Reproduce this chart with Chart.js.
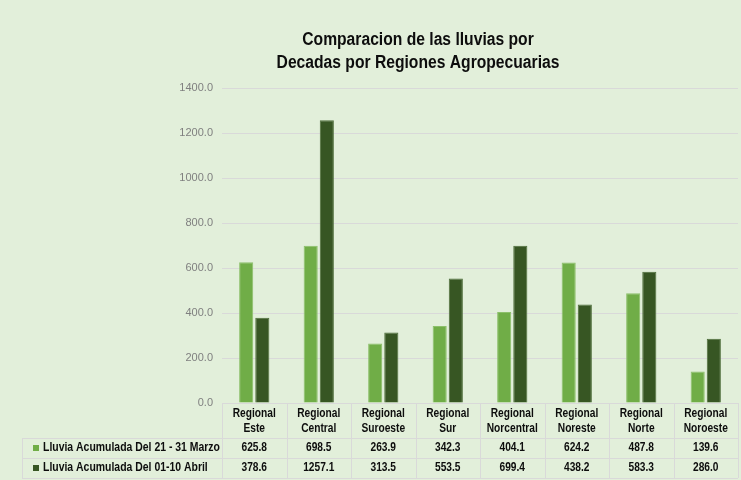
<!DOCTYPE html>
<html>
<head>
<meta charset="utf-8">
<script src="https://cdn.jsdelivr.net/npm/chart.js@4"></script>
<style>
  body { margin: 0; background: #E2EFDA; }
  #wrap { width: 741px; height: 480px; }
</style>
</head>
<body>
<div id="wrap"><canvas id="myChart" width="741" height="480"></canvas></div>
<script>
var regiones = [["Regional", "Este"], ["Regional", "Central"], ["Regional", "Suroeste"], ["Regional", "Sur"],
                ["Regional", "Norcentral"], ["Regional", "Noreste"], ["Regional", "Norte"], ["Regional", "Noroeste"]];
var marzo = [625.8, 698.5, 263.9, 342.3, 404.1, 624.2, 487.8, 139.6];
var abril = [378.6, 1257.1, 313.5, 553.5, 699.4, 438.2, 583.3, 286.0];
var serieNombres = ["Lluvia Acumulada Del 21 - 31 Marzo", "Lluvia Acumulada Del 01-10 Abril"];
var barColors = ["#70AD47", "#375623"];
var tituloLineas = ["Comparacion de las lluvias por", "Decadas por Regiones Agropecuarias"];

var fontFam = '"Liberation Sans", Arial, sans-serif';

// texto un poco comprimido, parecido a Calibri
function angosto(ctx, t, x, y, f) {
  ctx.fillText(t, x, y, ctx.measureText(t).width * f);
}

// fondo, titulo y tabla de datos debajo del eje
var tablaPlugin = {
  id: "tabla",
  beforeDraw: function (chart) {
    var ctx = chart.ctx;
    ctx.save();
    ctx.fillStyle = "#E2EFDA";
    ctx.fillRect(0, 0, chart.width, chart.height);
    ctx.restore();
  },
  afterDraw: function (chart) {
    var ctx = chart.ctx;
    var x = chart.scales.x;
    var area = chart.chartArea;
    var n = regiones.length;
    var step = (area.right - area.left) / n;
    var top = area.bottom;
    var r1 = top + 35, r2 = r1 + 20, r3 = r2 + 20;
    var left = 22;

    ctx.save();
    // titulo
    ctx.fillStyle = "#0D0D0D";
    ctx.font = "bold 18px " + fontFam;
    ctx.textAlign = "center";
    ctx.textBaseline = "middle";
    angosto(ctx, tituloLineas[0], 418, 40, 0.87);
    angosto(ctx, tituloLineas[1], 418, 63, 0.87);

    // lineas de la tabla
    ctx.strokeStyle = "#D9D9D9";
    ctx.lineWidth = 1;
    ctx.beginPath();
    ctx.moveTo(area.left, top + 0.5); ctx.lineTo(area.right, top + 0.5);
    [r1, r2, r3].forEach(function (y) {
      ctx.moveTo(left, y + 0.5); ctx.lineTo(area.right, y + 0.5);
    });
    ctx.moveTo(left + 0.5, r1); ctx.lineTo(left + 0.5, r3);
    for (var i = 0; i <= n; i++) {
      var vx = Math.round(area.left + i * step) + 0.5;
      ctx.moveTo(vx, top); ctx.lineTo(vx, r3);
    }
    ctx.stroke();

    // textos
    ctx.fillStyle = "#0D0D0D";
    ctx.font = "bold 12px " + fontFam;
    for (var j = 0; j < n; j++) {
      var cx = x.getPixelForValue(j);
      angosto(ctx, regiones[j][0], cx, top + 11, 0.85);
      angosto(ctx, regiones[j][1], cx, top + 26, 0.85);
      angosto(ctx, marzo[j].toFixed(1), cx, r1 + 10, 0.85);
      angosto(ctx, abril[j].toFixed(1), cx, r2 + 10, 0.85);
    }
    ctx.textAlign = "left";
    [r1, r2].forEach(function (y, k) {
      ctx.fillStyle = barColors[k];
      ctx.fillRect(33, y + 7, 6, 6);
      ctx.fillStyle = "#0D0D0D";
      angosto(ctx, serieNombres[k], 43, y + 10, 0.87);
    });
    ctx.restore();
  }
};

new Chart("myChart", {
  type: "bar",
  data: {
    labels: regiones.map(function (r) { return r.join(" "); }),
    datasets: [{
      label: serieNombres[0],
      backgroundColor: barColors[0],
      borderColor: "#8CC06A",
      borderWidth: 1,
      data: marzo
    }, {
      label: serieNombres[1],
      backgroundColor: barColors[1],
      borderColor: "#4E6E3A",
      borderWidth: 1,
      data: abril
    }]
  },
  options: {
    responsive: false,
    animation: false,
    layout: { padding: { top: 88, right: 3, bottom: 77, left: 0 } },
    plugins: {
      legend: { display: false },
      title: { display: false },
      tooltip: { enabled: false }
    },
    datasets: { bar: { categoryPercentage: 0.5, barPercentage: 0.875 } },
    scales: {
      x: { display: false },
      y: {
        min: 0, max: 1400,
        afterFit: function (s) { s.width = 222; },
        border: { display: false },
        grid: { color: "#D9D9D9", drawTicks: false },
        ticks: {
          stepSize: 200,
          padding: 9,
          color: "#7F7F7F",
          font: { family: fontFam, size: 11 },
          callback: function (v) { return v.toFixed(1); }
        }
      }
    }
  },
  plugins: [tablaPlugin]
});
</script>
</body>
</html>
